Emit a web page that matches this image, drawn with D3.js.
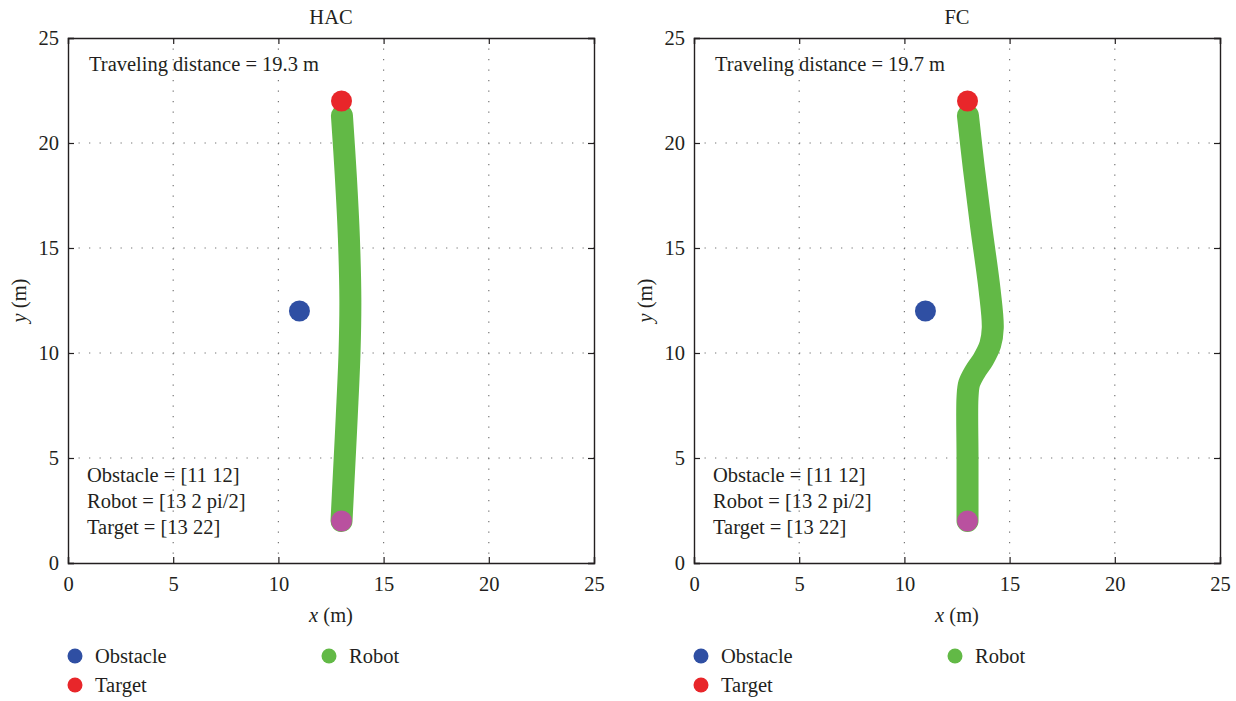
<!DOCTYPE html>
<html>
<head>
<meta charset="utf-8">
<script src="https://cdn.jsdelivr.net/npm/d3@7"></script>
<style>
  body { margin: 0; background: #fff; }
  text { font-family: "Liberation Serif", "DejaVu Serif", serif; fill: #231f20; }
</style>
</head>
<body>
<div id="chart"></div>
<script>
// data
let ticks = [0, 5, 10, 15, 20, 25];
let obstacle = [11, 12];
let target = [13, 22];
let robotStart = [13, 2];
let hacPath = [[13, 2], [13.1, 4], [13.25, 7], [13.38, 10], [13.42, 12.5], [13.35, 15.5], [13.2, 18.5], [13.02, 21.3]];
let fcPath = [[13, 2], [13, 5], [13, 7.9], [13.08, 8.55], [13.35, 9.1], [13.75, 9.7], [14.08, 10.4], [14.2, 11.2], [14.05, 13], [13.65, 16], [13.3, 18.8], [13.02, 21.3]];
let titles = ["HAC", "FC"];
let distances = ["19.3", "19.7"];
let infoLines = ["Obstacle = [11 12]", "Robot = [13 2 pi/2]", "Target = [13 22]"];
let legendItems = [
  { name: "Obstacle", color: "#2f4fa3", col: 0, row: 0 },
  { name: "Robot", color: "#62b946", col: 1, row: 0 },
  { name: "Target", color: "#e8262a", col: 0, row: 1 }
];

let colors = { obstacle: "#2f4fa3", target: "#e8262a", robot: "#62b946", start: "#b9519f" };

let svgWidth = 1236;
let svgHeight = 701;

let svg = d3.select("#chart")
  .append("svg")
  .attr("width", svgWidth)
  .attr("height", svgHeight);

let plotW = 526;
let plotH = 525;
let plotTop = 38;

function drawPanel(left, title, path, dist) {
  let g = svg.append("g").attr("transform", `translate(${left}, ${plotTop})`);

  let x = d3.scaleLinear().domain([0, 25]).range([0, plotW]);
  let y = d3.scaleLinear().domain([0, 25]).range([plotH, 0]);

  // dotted grid
  g.selectAll(".vgrid")
    .data(ticks.slice(1, -1))
    .enter()
    .append("line")
    .attr("x1", d => x(d)).attr("x2", d => x(d))
    .attr("y1", 0).attr("y2", plotH)
    .attr("stroke", "#777")
    .attr("stroke-width", 1.2)
    .attr("stroke-dasharray", "1.3,9.2");

  g.selectAll(".hgrid")
    .data(ticks.slice(1, -1))
    .enter()
    .append("line")
    .attr("y1", d => y(d)).attr("y2", d => y(d))
    .attr("x1", 0).attr("x2", plotW)
    .attr("stroke", "#777")
    .attr("stroke-width", 1.2)
    .attr("stroke-dasharray", "1.3,9.2");

  // axes with inward ticks
  let bottomAxis = d3.axisBottom(x).tickValues(ticks).tickSize(-6).tickPadding(13);
  let leftAxis = d3.axisLeft(y).tickValues(ticks).tickSize(-6).tickPadding(9);
  let topAxis = d3.axisTop(x).tickValues(ticks).tickSize(-6).tickFormat("");
  let rightAxis = d3.axisRight(y).tickValues(ticks).tickSize(-6).tickFormat("");

  [
    g.append("g").attr("transform", `translate(0, ${plotH})`).call(bottomAxis),
    g.append("g").call(leftAxis),
    g.append("g").call(topAxis),
    g.append("g").attr("transform", `translate(${plotW}, 0)`).call(rightAxis)
  ].forEach(a => {
    a.select(".domain").attr("stroke", "#231f20").attr("stroke-width", 1.4);
    a.selectAll(".tick line").attr("stroke", "#231f20").attr("stroke-width", 1.2);
    a.selectAll(".tick text")
      .style("font-family", "Liberation Serif, serif")
      .style("font-size", "20.5px")
      .attr("fill", "#231f20");
  });

  // title
  g.append("text")
    .attr("x", plotW / 2)
    .attr("y", -14)
    .attr("text-anchor", "middle")
    .style("font-size", "20.5px")
    .text(title);

  // axis labels
  let xl = g.append("text")
    .attr("x", plotW / 2)
    .attr("y", plotH + 59)
    .attr("text-anchor", "middle")
    .style("font-size", "20.5px");
  xl.append("tspan").style("font-style", "italic").text("x");
  xl.append("tspan").text(" (m)");

  let yl = g.append("text")
    .attr("transform", `translate(-42, ${plotH / 2}) rotate(-90)`)
    .attr("text-anchor", "middle")
    .style("font-size", "20.5px");
  yl.append("tspan").style("font-style", "italic").text("y");
  yl.append("tspan").text(" (m)");

  // robot trajectory
  let line = d3.line()
    .x(d => x(d[0]))
    .y(d => y(d[1]))
    .curve(d3.curveCatmullRom.alpha(0.5));

  g.append("path")
    .datum(path)
    .attr("d", line)
    .attr("fill", "none")
    .attr("stroke", colors.robot)
    .attr("stroke-width", 22)
    .attr("stroke-linecap", "round")
    .attr("stroke-linejoin", "round");

  // markers
  let markers = [
    { p: obstacle, c: colors.obstacle },
    { p: target, c: colors.target },
    { p: robotStart, c: colors.start }
  ];
  g.selectAll(".marker")
    .data(markers)
    .enter()
    .append("circle")
    .attr("cx", d => x(d.p[0]))
    .attr("cy", d => y(d.p[1]))
    .attr("r", 10.5)
    .attr("fill", d => d.c);

  // in-plot text
  g.append("text")
    .attr("x", 21)
    .attr("y", 33)
    .style("font-size", "20.5px")
    .text(`Traveling distance = ${dist} m`);

  g.selectAll(".info")
    .data(infoLines)
    .enter()
    .append("text")
    .attr("x", 19)
    .attr("y", (d, i) => 444 + i * 26)
    .style("font-size", "20.5px")
    .text(d => d);

  // legend
  let lg = g.append("g").attr("transform", `translate(7, ${plotH + 93})`);
  legendItems.forEach(item => {
    let ix = item.col * 254;
    let iy = item.row * 29;
    lg.append("circle")
      .attr("cx", ix)
      .attr("cy", iy)
      .attr("r", 7.5)
      .attr("fill", item.color);
    lg.append("text")
      .attr("x", ix + 20)
      .attr("y", iy + 7)
      .style("font-size", "20.5px")
      .text(item.name);
  });
}

drawPanel(68, titles[0], hacPath, distances[0]);
drawPanel(694, titles[1], fcPath, distances[1]);
</script>
</body>
</html>
